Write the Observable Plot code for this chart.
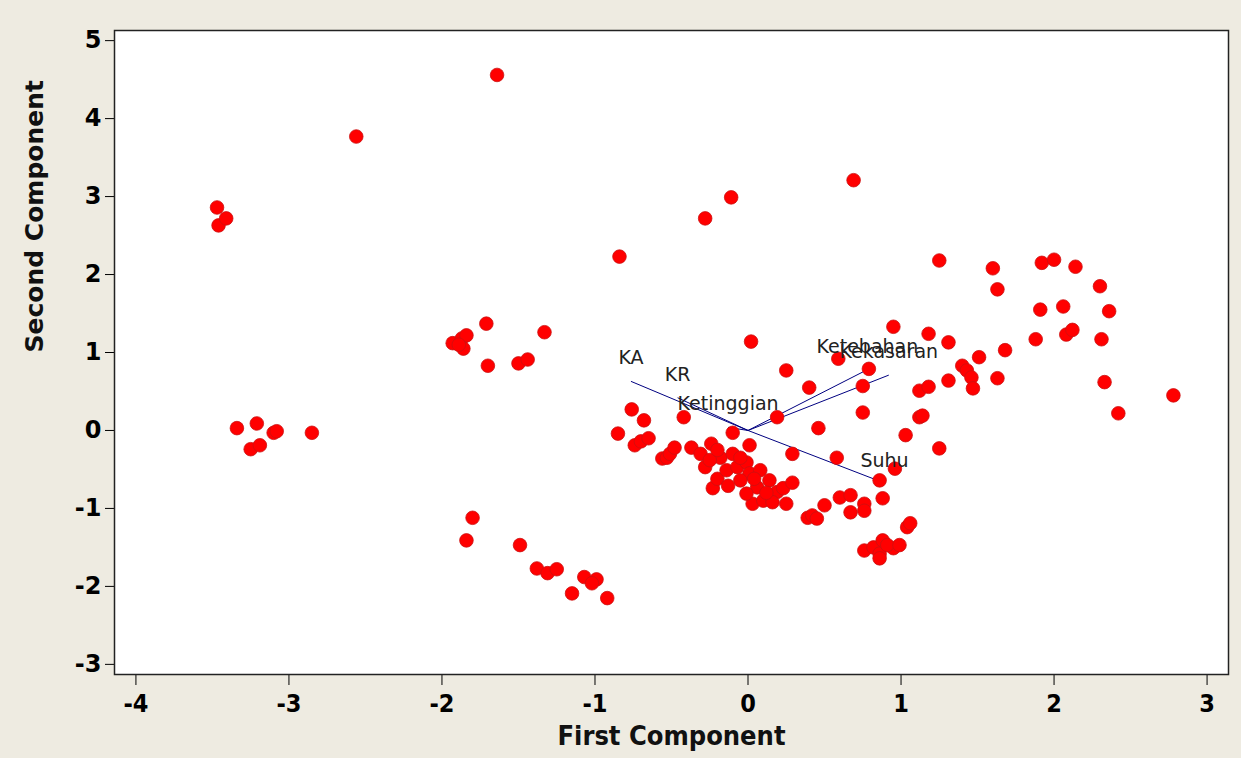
<!DOCTYPE html>
<html>
<head>
<meta charset="utf-8">
<script src="https://cdn.jsdelivr.net/npm/d3@7"></script>
<script src="https://cdn.jsdelivr.net/npm/@observablehq/plot@0.6"></script>
<style>
  html, body { margin: 0; padding: 0; background: #eeebe1; }
  #chart svg { display: block; }
</style>
</head>
<body>
<div id="chart"></div>
<script>
// Scores (First Component, Second Component)
const scoreX = [
  -1.64,-2.56,-3.47,-3.46,-3.41,-0.84,-0.28,-0.11,0.69,
  -1.93,-1.87,-1.84,-1.86,-1.89,-1.71,-1.33,-1.70,-1.50,-1.44,
  -3.34,-3.21,-3.25,-3.19,-3.10,-3.08,-2.85,
  -1.80,-1.84,-1.49,-1.38,-1.31,-1.25,-1.15,-1.07,-0.99,-1.02,-0.92,
  -0.76,-0.68,-0.85,-0.74,-0.70,-0.65,-0.42,0.02,0.19,-0.10,0.01,
  -0.56,-0.53,-0.51,-0.48,-0.37,-0.24,-0.31,-0.28,-0.18,-0.10,-0.23,-0.20,-0.14,-0.07,-0.01,0.01,-0.05,0.08,0.06,0.14,0.19,0.03,0.10,0.16,0.23,0.29,0.25,-0.01,-0.13,-0.25,0.29,-0.20,-0.05,0.12,0.04,
  0.39,0.42,0.45,0.50,0.60,0.67,0.67,0.76,0.76,0.88,0.86,0.96,0.58,1.04,1.06,0.76,0.82,0.86,0.88,0.95,0.86,0.91,0.99,
  0.25,0.40,0.59,0.79,0.75,0.75,0.46,0.95,1.18,1.31,1.12,1.18,1.12,1.14,1.03,1.25,1.31,1.40,1.43,1.46,1.47,1.51,1.63,1.68,1.25,
  1.60,1.63,1.92,2.00,2.14,1.91,2.06,1.88,2.08,2.12,2.30,2.36,2.31,2.33,2.42,2.78
];
const scoreY = [
  4.56,3.77,2.86,2.63,2.72,2.23,2.72,2.99,3.21,
  1.12,1.18,1.22,1.05,1.10,1.37,1.26,0.83,0.86,0.91,
  0.03,0.09,-0.24,-0.19,-0.03,-0.01,-0.03,
  -1.12,-1.41,-1.47,-1.77,-1.83,-1.78,-2.09,-1.88,-1.91,-1.96,-2.15,
  0.27,0.13,-0.04,-0.19,-0.14,-0.10,0.17,1.14,0.17,-0.03,-0.19,
  -0.36,-0.35,-0.30,-0.22,-0.22,-0.17,-0.30,-0.47,-0.35,-0.30,-0.74,-0.62,-0.51,-0.47,-0.41,-0.55,-0.64,-0.51,-0.73,-0.64,-0.79,-0.94,-0.90,-0.92,-0.74,-0.67,-0.94,-0.81,-0.71,-0.38,-0.30,-0.25,-0.35,-0.80,-0.62,
  -1.12,-1.09,-1.13,-0.96,-0.86,-0.83,-1.05,-0.94,-1.03,-0.87,-0.64,-0.49,-0.35,-1.24,-1.19,-1.54,-1.50,-1.58,-1.41,-1.51,-1.64,-1.47,-1.47,
  0.77,0.55,0.92,0.79,0.57,0.23,0.03,1.33,1.24,1.13,0.51,0.56,0.17,0.19,-0.06,-0.23,0.64,0.83,0.77,0.68,0.54,0.94,0.67,1.03,2.18,
  2.08,1.81,2.15,2.19,2.10,1.55,1.59,1.17,1.23,1.29,1.85,1.53,1.17,0.62,0.22,0.45
];

// Loadings (variable vectors)
const loadName = ["KA", "KR", "Ketinggian", "Ketebahan", "Kekasaran", "Suhu"];
const loadX = [-0.765, -0.46, -0.13, 0.78, 0.92, 0.82];
const loadY = [0.63, 0.42, 0.04, 0.78, 0.71, -0.62];

const xTicks = [-4, -3, -2, -1, 0, 1, 2, 3];
const yTicks = [-3, -2, -1, 0, 1, 2, 3, 4, 5];

const scores = scoreX.map((x, i) => ({x, y: scoreY[i]}));
const loadings = loadName.map((name, i) => ({name, x: loadX[i], y: loadY[i]}));

const condensed = "'DejaVu Sans Condensed', 'DejaVu Sans', sans-serif";

const chart = Plot.plot({
  width: 1241,
  height: 758,
  marginLeft: 114,
  marginRight: 13,
  marginTop: 30,
  marginBottom: 84,
  x: {domain: [-4.14, 3.14]},
  y: {domain: [-3.13, 5.13]},
  style: {background: "#eeebe1", fontFamily: "'DejaVu Sans', Verdana, sans-serif", color: "#000"},
  marks: [
    Plot.frame({fill: "white", stroke: null}),
    Plot.axisX({ticks: xTicks, tickSize: 11, tickPadding: 9, fontSize: 25, fontWeight: "bold",
      fontFamily: condensed, label: null, tickFormat: d => String(d)}),
    Plot.axisY({ticks: yTicks, tickSize: 9, tickPadding: 4, fontSize: 24, fontWeight: "bold",
      label: null, tickFormat: d => String(d)}),
    Plot.text(["Second Component"], {frameAnchor: "left", dx: -80, rotate: -90, fontSize: 25, fontWeight: "bold", fill: "#111"}),
    Plot.text(["First Component"], {frameAnchor: "bottom", dy: 70, fontSize: 27, fontWeight: "bold",
      fontFamily: condensed, fill: "#111"}),
    Plot.link(loadings, {x1: 0, y1: 0, x2: "x", y2: "y", stroke: "#000080", strokeWidth: 1}),
    Plot.dot(scores, {x: "x", y: "y", r: 6.8, fill: "#ff0000", stroke: "#cc1010", strokeWidth: 0.8}),
    Plot.text(loadings.filter(d => d.name !== "Suhu"), {x: "x", y: "y", text: "name", dy: -23, fontSize: 19, fill: "#222"}),
    Plot.text(loadings.filter(d => d.name === "Suhu"), {x: "x", y: "y", text: "name", dy: -18, dx: 11, fontSize: 19, fill: "#222"}),
    Plot.frame({stroke: "#222", strokeWidth: 1.5})
  ]
});
document.getElementById("chart").appendChild(chart);
</script>
</body>
</html>
